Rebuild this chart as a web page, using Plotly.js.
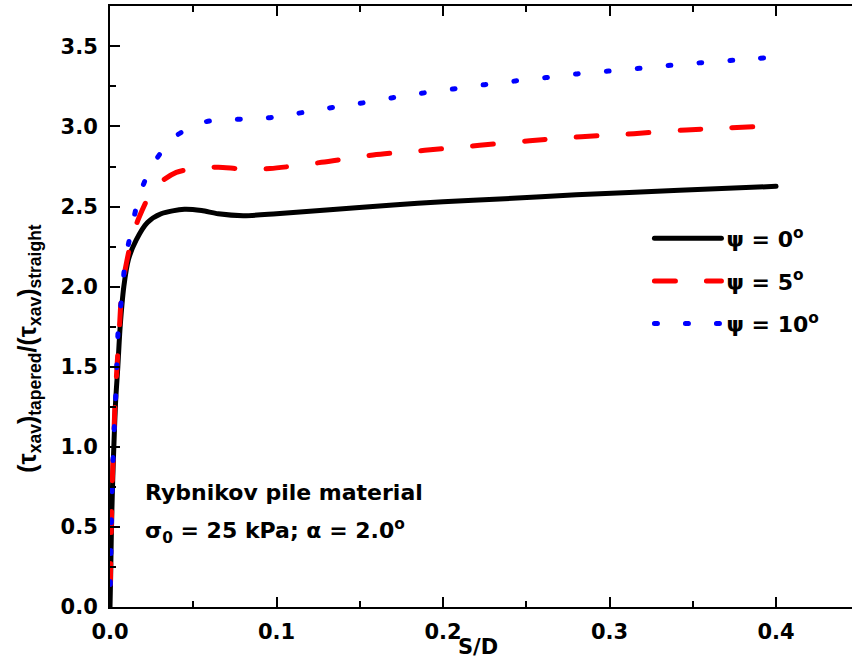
<!DOCTYPE html>
<html>
<head>
<meta charset="utf-8">
<script src="https://cdn.plot.ly/plotly-3.0.1.min.js"></script>
<style>
  html, body { margin: 0; padding: 0; background: #fff; }
  #chart { width: 855px; height: 660px; }
  /* rounded ends for dashes and dots */
  path.js-line { stroke-linecap: round; stroke-linejoin: round; }
</style>
</head>
<body>
<div id="chart"></div>
<script>
// Normalised shaft resistance vs relative settlement S/D
var sd0 = [0, 0.0004, 0.0008, 0.0015, 0.0023, 0.0033, 0.0047, 0.0061, 0.0083, 0.0111, 0.0157,
           0.0225, 0.0307, 0.0447, 0.055, 0.065, 0.08, 0.1, 0.134, 0.17, 0.2, 0.234, 0.28, 0.342, 0.4];
var psi0 = [0, 0.2, 0.45, 0.75, 1.0, 1.27, 1.5, 1.75, 2.0, 2.17, 2.29,
            2.4, 2.455, 2.483, 2.475, 2.455, 2.443, 2.455, 2.482, 2.51, 2.53, 2.547, 2.573, 2.601, 2.626];

var sd5 = [0, 0.0003, 0.0007, 0.0013, 0.0021, 0.003, 0.0042, 0.0057, 0.0072, 0.0087, 0.0127, 0.0173,
           0.0267, 0.0398, 0.055, 0.065, 0.08, 0.096, 0.127, 0.158, 0.189, 0.222, 0.252, 0.283, 0.3146, 0.346, 0.386];
var psi5 = [0, 0.2, 0.45, 0.75, 1.0, 1.27, 1.5, 1.75, 2.0, 2.085, 2.283, 2.429,
            2.618, 2.713, 2.742, 2.745, 2.735, 2.737, 2.776, 2.822, 2.851, 2.882, 2.911, 2.936, 2.955, 2.978, 2.998];

var sd10 = [0, 0.0003, 0.0007, 0.0013, 0.0021, 0.0029, 0.0037, 0.0043, 0.0051, 0.0073, 0.0091, 0.0127, 0.0171,
            0.0243, 0.0387, 0.057, 0.0754, 0.0944, 0.1128, 0.1314, 0.150, 0.169, 0.187, 0.206, 0.225,
            0.2434, 0.262, 0.2806, 0.2994, 0.318, 0.3366, 0.355, 0.374, 0.3925];
var psi10 = [0, 0.2, 0.45, 0.75, 1.0, 1.2, 1.374, 1.571, 1.763, 1.954, 2.158, 2.345, 2.547,
             2.737, 2.934, 3.028, 3.044, 3.053, 3.082, 3.115, 3.144, 3.178, 3.207, 3.234, 3.261,
             3.284, 3.305, 3.328, 3.346, 3.363, 3.382, 3.398, 3.413, 3.428];

var legendNames = ['\u03c8 = 0<sup>o</sup>', '\u03c8 = 5<sup>o</sup>', '\u03c8 = 10<sup>o</sup>'];

var FONT = 'DejaVu Sans, Verdana, sans-serif';
var FONT_V = 'Liberation Sans, Arial, Helvetica, sans-serif';

// dash patterns: [dash, gap] in px (round caps add the line width to each dash)
var DASH5 = [21, 31];
var DASH10 = [3, 28];

var traces = [
  { x: sd0, y: psi0, name: legendNames[0], legendgroup: 'a', mode: 'lines',
    line: { color: '#000000', width: 5, shape: 'spline', smoothing: 0.8 } },
  { x: sd5, y: psi5, name: legendNames[1], legendgroup: 'b', mode: 'lines',
    line: { color: '#ff0000', width: 5, dash: DASH5[0] + 'px,' + DASH5[1] + 'px', shape: 'spline', smoothing: 0.8 } },
  { x: sd10, y: psi10, name: legendNames[2], legendgroup: 'c', mode: 'lines',
    line: { color: '#0000ff', width: 5, dash: DASH10[0] + 'px,' + DASH10[1] + 'px', shape: 'spline', smoothing: 0.8 } }
];

var tickFont = { family: FONT, size: 21, color: '#000', weight: 'bold' };

var layout = {
  width: 855, height: 660,
  margin: { l: 110, r: 3, t: 6, b: 53 },
  paper_bgcolor: '#fff', plot_bgcolor: '#fff',
  showlegend: true,
  legend: {
    x: 0.727, y: 0.648, xanchor: 'left', yanchor: 'top',
    bgcolor: 'rgba(0,0,0,0)', borderwidth: 0,
    font: { family: FONT, size: 22, color: '#000', weight: 'bold' },
    itemwidth: 67, traceorder: 'grouped', tracegroupgap: 11
  },
  xaxis: {
    range: [0, 0.4456], showgrid: false, zeroline: false,
    showline: true, linecolor: '#000', linewidth: 2, mirror: 'ticks',
    ticks: 'inside', ticklen: 10, tickwidth: 2, tickcolor: '#000',
    dtick: 0.1, tick0: 0, tickformat: '.1f', tickfont: tickFont,
    ticklabelstandoff: 5,
    minor: { dtick: 0.05, ticks: 'inside', ticklen: 6, tickwidth: 2, tickcolor: '#000', showgrid: false }
  },
  yaxis: {
    range: [0, 3.752], showgrid: false, zeroline: false,
    showline: true, linecolor: '#000', linewidth: 2,
    ticks: 'inside', ticklen: 10, tickwidth: 2, tickcolor: '#000',
    dtick: 0.5, tick0: 0, tickformat: '.1f', tickfont: tickFont,
    ticklabelstandoff: 6,
    minor: { dtick: 0.25, ticks: 'inside', ticklen: 6, tickwidth: 2, tickcolor: '#000', showgrid: false }
  },
  annotations: [
    { xref: 'paper', yref: 'paper', x: -0.1095, y: 0.431, xanchor: 'center', yanchor: 'middle',
      textangle: -90, showarrow: false,
      text: '(\u03c4<sub>xav</sub>)<sub>tapered</sub>/(\u03c4<sub>xav</sub>)<sub>straight</sub>',
      font: { family: FONT_V, size: 25, color: '#000', weight: 'bold' } },
    { xref: 'paper', yref: 'paper', x: 0.496, y: -0.066, xanchor: 'center', yanchor: 'middle',
      showarrow: false, text: 'S/D',
      font: { family: FONT, size: 21, color: '#000', weight: 'bold' } },
    { xref: 'paper', yref: 'paper', x: 0.045, y: 0.191, xanchor: 'left', yanchor: 'middle',
      showarrow: false, text: 'Rybnikov pile material',
      font: { family: FONT, size: 22, color: '#000', weight: 'bold' } },
    { xref: 'paper', yref: 'paper', x: 0.045, y: 0.127, xanchor: 'left', yanchor: 'middle',
      showarrow: false, text: '\u03c3<sub>0</sub> = 25 kPa; \u03b1 = 2.0<sup>o</sup>',
      font: { family: FONT, size: 22, color: '#000', weight: 'bold' } }
  ]
};

// shift the dash phase so that each broken curve finishes on a mark
function alignDashEnds(gd) {
  var paths = gd.querySelectorAll('.scatterlayer .trace path.js-line');
  var patterns = [null, DASH5, DASH10];
  paths.forEach(function (p, i) {
    var pat = patterns[i];
    if (!pat || !p.getTotalLength) return;
    var L = p.getTotalLength();
    var P = pat[0] + pat[1];
    var off = ((pat[0] - (L % P)) % P + P) % P;
    p.style.strokeDashoffset = off + 'px';
  });
}

Plotly.newPlot('chart', traces, layout, { displayModeBar: false, staticPlot: true })
  .then(alignDashEnds);
</script>
</body>
</html>
